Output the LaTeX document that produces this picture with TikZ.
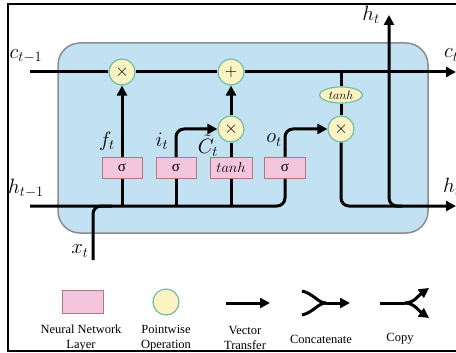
\documentclass[tikz,border=0pt]{standalone}
\usepackage{fontspec}
\setmainfont{Liberation Serif}
\usetikzlibrary{arrows.meta,shapes.geometric}

\definecolor{cellblue}{HTML}{C2E1F3}
\definecolor{cellgray}{HTML}{8C8C8C}
\definecolor{nnpink}{HTML}{F4C6DE}
\definecolor{nnedge}{HTML}{B07A7A}
\definecolor{opfill}{HTML}{FBF3C4}
\definecolor{opedge}{HTML}{72BE9E}

\begin{document}
\begin{tikzpicture}[x=1pt,y=-1pt,
  wire/.style={line width=3pt, black},
  flow/.style={wire, -{Triangle[length=10pt,width=10pt]}},
  nnbox/.style={rectangle, draw=nnedge, fill=nnpink, line width=1pt,
    minimum width=40pt, minimum height=21pt, inner sep=0pt},
  pwop/.style={circle, draw=opedge, fill=opfill, line width=1.2pt,
    minimum size=26pt, inner sep=0pt, font=\fontsize{17}{17}\selectfont},
  lbl/.style={font=\fontsize{20.5}{22}\selectfont, inner sep=0pt},
  legtext/.style={font=\fontsize{12.5}{15.5}\selectfont, align=center, inner sep=0pt}]
\useasboundingbox (0,0) rectangle (456,353);
\clip (0,0) rectangle (456,353);

% frame
\draw[line width=2pt] (470,4) -- (8,4) -- (8,351) -- (470,351);

% LSTM cell body
\draw[fill=cellblue, draw=cellgray, line width=1.5pt, rounded corners=22pt]
  (58,43) rectangle (428,233);

% endpoints and junctions
\coordinate (cin) at (30,72);
\coordinate (cout) at (456,72);
\coordinate (hin) at (30,206);
\coordinate (hout) at (456,206);
\coordinate (xin) at (93,260);
\coordinate (xjoin) at (112,206);
\coordinate (tap) at (341,72);
\coordinate (split) at (402,206);
\coordinate (htop) at (389,15);

% gate layers
\node[nnbox] (fg) at (122,168) {\fontsize{15}{15}\selectfont σ};
\node[nnbox] (ig) at (176,168) {\fontsize{15}{15}\selectfont σ};
\node[nnbox, minimum width=42pt] (cg) at (231,168) {\fontsize{13.5}{13.5}\selectfont$tanh$};
\node[nnbox, minimum width=41pt] (og) at (285,168) {\fontsize{15}{15}\selectfont σ};

% pointwise operations
\node[pwop] (fx) at (122,72) {$\times$};
\node[pwop] (add) at (231,72) {$+$};
\node[pwop] (ix) at (231,129) {$\times$};
\node[pwop] (ox) at (341,129) {$\times$};
\node[ellipse, draw=opedge, fill=opfill, line width=1.2pt, minimum width=43pt,
  minimum height=16pt, inner sep=0pt] (th) at (341,95) {\fontsize{13}{13}\selectfont$tanh$};

% cell state
\draw[wire] (cin) -- (fx);
\draw[wire] (fx) -- (add);
\draw[flow] (add) -- (cout);

% hidden state input and gate feeds
\draw[wire, rounded corners=8pt] (hin) -| (og);
\draw[wire] (fg) -- (fg |- hin);
\draw[wire] (ig) -- (ig |- hin);
\draw[wire] (cg) -- (cg |- hin);
\draw[wire, rounded corners=8pt] (xin) |- (xjoin);

% gate outputs
\draw[flow] (fg) -- (fx);
\draw[flow, rounded corners=8pt] (ig) |- (ix);
\draw[wire] (cg) -- (ix);
\draw[flow] (ix) -- (add);
\draw[flow, rounded corners=8pt] (og) |- (ox);

% output path
\draw[wire] (tap) -- (th);
\draw[wire] (th) -- (ox);
\draw[flow, rounded corners=8pt] (ox) |- (hout);
\draw[flow, rounded corners=8pt] (split) -| (htop);

% labels
\node[lbl] (lc0) at (26,56) {$c_{t-1}$};
\node[lbl] (lh0) at (26,188) {$h_{t-1}$};
\node[lbl] (lx) at (80,251) {$x_t$};
\node[lbl] (lf) at (107,141) {$f_t$};
\node[lbl] (li) at (162,141) {$i_t$};
\node[lbl] (lct) at (208,146) {$\tilde{C}_t$};
\node[lbl] (lo) at (274,140) {$o_t$};
\node[lbl] (lht) at (371,15) {$h_t$};
\node[lbl, anchor=west] (lc1) at (444,55) {$c_t$};
\node[lbl, anchor=west] (lh1) at (443,187) {$h_t$};

% legend
\node[nnbox, minimum width=41pt, minimum height=23pt] (lgnn) at (83,302) {};
\node[pwop] (lgop) at (166,302) {};
\coordinate (va) at (226,303);
\coordinate (vb) at (270,303);
\draw[flow] (va) -- (vb);
\coordinate (ca) at (302,291);
\coordinate (cb) at (302,315);
\coordinate (cm) at (326,303);
\coordinate (cc) at (350,303);
\draw[wire] (ca) .. controls (314,294) and (318,303) .. (cm);
\draw[wire] (cb) .. controls (314,312) and (318,303) .. (cm);
\draw[flow] (cm) -- (cc);
\coordinate (pa) at (380,303);
\coordinate (pm) at (405,303);
\coordinate (pu) at (429,288);
\coordinate (pd) at (429,318);
\draw[wire] (pa) -- (pm);
\draw[flow] (pm) .. controls (414,303) and (419,295) .. (pu);
\draw[flow] (pm) .. controls (414,303) and (419,311) .. (pd);

\node[legtext] (t1) at (81,338) {Neural Network\\Layer};
\node[legtext] (t2) at (166,338) {Pointwise\\Operation};
\node[legtext] (t3) at (245,338) {Vector\\Transfer};
\node[legtext] (t4) at (321,339) {Concatenate};
\node[legtext] (t5) at (400,339) {Copy};
\end{tikzpicture}
\end{document}
